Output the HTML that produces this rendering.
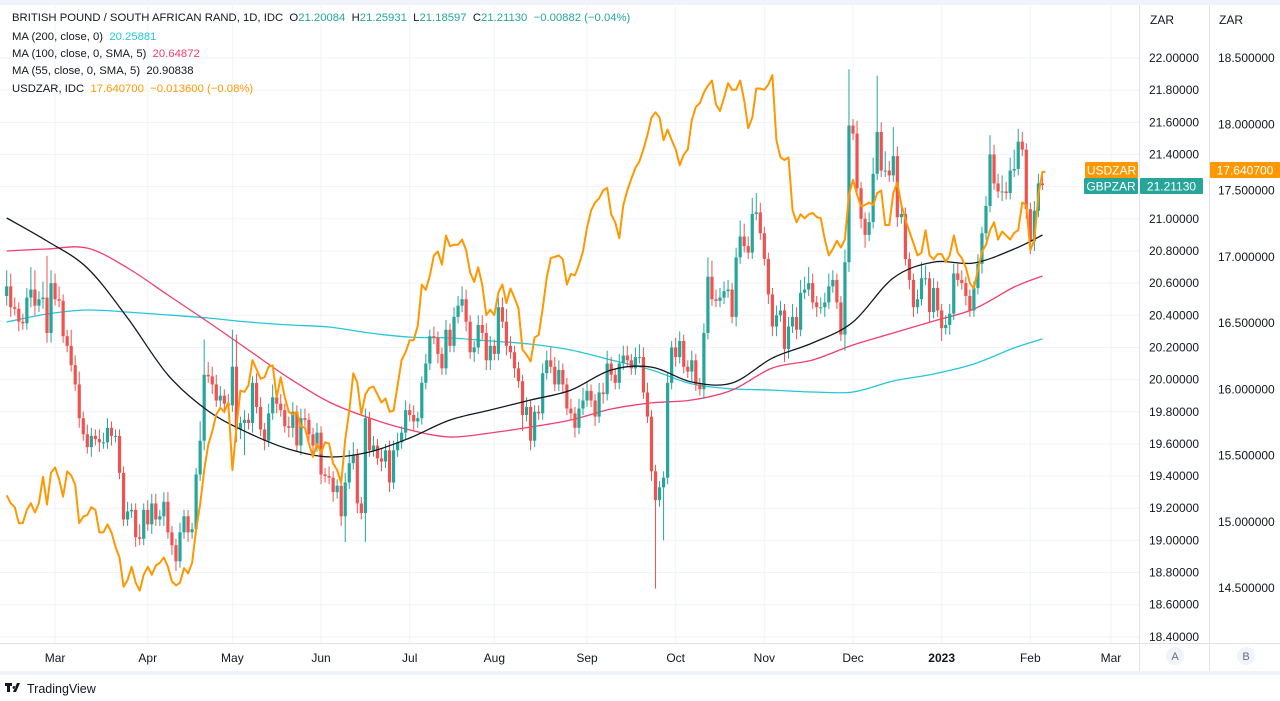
<!DOCTYPE html>
<html><head><meta charset="utf-8"><style>
body{margin:0;background:#fff;font-family:"Liberation Sans",sans-serif;}
#wrap{position:relative;width:1280px;height:701px;overflow:hidden;background:#fff;}
svg{position:absolute;left:0;top:0;}
.lg{position:absolute;left:12px;font-size:11.3px;color:#131722;white-space:nowrap;}
</style></head><body>
<div id="wrap">
<svg id="chart" width="1280" height="701"></svg>
<div class="lg" style="top:12px">BRITISH POUND / SOUTH AFRICAN RAND, 1D, IDC&nbsp; O<span style="color:#26a69a">21.20084</span>&nbsp; H<span style="color:#26a69a">21.25931</span>&nbsp; L<span style="color:#26a69a">21.18597</span>&nbsp; C<span style="color:#26a69a">21.21130</span>&nbsp; <span style="color:#26a69a">−0.00882 (−0.04%)</span></div>
<div class="lg" style="top:31px">MA (200, close, 0)&nbsp; <span style="color:#26c6da">20.25881</span></div>
<div class="lg" style="top:48px">MA (100, close, 0, SMA, 5)&nbsp; <span style="color:#f23d6d">20.64872</span></div>
<div class="lg" style="top:65px">MA (55, close, 0, SMA, 5)&nbsp; 20.90838</div>
<div class="lg" style="top:83px">USDZAR, IDC&nbsp; <span style="color:#ff9800">17.640700&nbsp; −0.013600 (−0.08%)</span></div>
</div>
<script>
const closes=[20.58,20.45,20.44,20.36,20.35,20.51,20.56,20.46,20.50,20.51,20.29,20.60,20.50,20.49,20.27,20.21,20.09,19.97,19.76,19.66,19.58,19.65,19.63,19.61,19.61,19.70,19.65,19.65,19.42,19.13,19.18,19.19,19.02,19.01,19.19,19.10,19.23,19.13,19.15,19.24,19.05,18.97,18.87,19.05,19.15,19.05,19.07,19.41,19.62,20.03,20.02,19.97,19.87,19.90,19.85,19.84,20.08,19.69,19.73,19.75,19.73,19.98,19.83,19.69,19.62,19.79,19.89,19.85,19.81,19.71,19.70,19.80,19.59,19.76,19.75,19.66,19.59,19.67,19.41,19.40,19.39,19.30,19.34,19.15,19.36,19.48,19.53,19.23,19.17,19.76,19.56,19.59,19.51,19.49,19.56,19.36,19.56,19.61,19.67,19.81,19.78,19.74,19.76,19.98,20.10,20.27,20.26,20.16,20.07,20.31,20.21,20.39,20.46,20.50,20.36,20.17,20.20,20.34,20.29,20.12,20.21,20.16,20.45,20.36,20.21,20.17,20.07,19.99,19.78,19.83,19.62,19.80,19.79,20.04,20.12,20.08,19.97,20.06,19.97,19.82,19.79,19.70,19.82,19.87,19.93,19.87,19.77,19.92,19.91,20.10,20.03,19.98,20.10,20.15,20.12,20.07,20.14,20.14,19.92,19.77,19.43,19.25,19.33,19.39,19.98,20.20,20.14,20.24,20.08,20.05,20.12,19.97,19.94,20.29,20.64,20.50,20.49,20.51,20.55,20.56,20.39,20.76,20.89,20.83,20.79,21.03,21.04,20.91,20.75,20.53,20.33,20.40,20.43,20.19,20.33,20.39,20.31,20.54,20.56,20.60,20.48,20.45,20.45,20.48,20.58,20.62,20.48,20.28,20.73,21.58,21.53,21.19,21.00,20.90,20.98,21.28,21.54,21.30,21.30,21.27,21.39,21.01,21.03,20.75,20.62,20.45,20.50,20.63,20.63,20.42,20.57,20.43,20.32,20.34,20.41,20.66,20.62,20.60,20.52,20.43,20.57,20.72,20.91,21.08,21.40,21.22,21.17,21.17,21.16,21.30,21.31,21.48,21.43,21.06,20.86,21.05,21.22,21.21];
const wickUp=[10,8,6,4,5,6,14,12,5,10,26,8,6,8,4,4,10,6,8,4,6,5,4,6,6,6,4,4,4,4,6,4,4,8,4,6,6,6,4,6,6,4,4,6,4,4,4,4,12,22,8,6,6,6,4,6,23,20,4,6,4,4,6,6,4,6,8,4,6,4,6,6,4,6,6,4,4,6,4,4,6,4,4,6,6,8,8,4,4,6,4,6,4,6,4,6,6,6,4,6,4,6,4,4,6,4,6,4,4,6,4,6,6,8,6,4,4,6,6,6,6,4,6,6,8,6,4,4,4,6,4,4,4,6,6,8,6,6,4,4,6,4,6,8,6,4,4,6,6,8,4,4,6,6,6,4,6,8,6,6,4,4,4,4,6,4,6,6,4,4,6,4,4,6,12,10,6,6,6,6,4,6,10,8,6,10,12,6,4,4,4,6,6,4,6,8,6,8,8,10,6,4,6,6,8,6,4,4,8,35,4,8,4,4,6,10,35,6,12,6,18,6,6,4,4,4,6,10,8,4,6,4,4,6,6,6,6,6,4,4,4,6,4,6,12,6,6,10,6,8,12,8,6,4,4,6,6,5];
const wickDn=[6,6,4,6,4,4,6,6,4,6,6,6,4,4,4,4,4,4,6,4,4,6,4,6,4,4,6,4,4,4,4,4,6,4,4,4,6,4,4,6,4,6,6,4,4,6,4,4,4,6,4,6,4,4,6,4,4,8,6,20,4,6,4,4,6,4,4,6,4,4,6,6,4,6,4,4,6,4,6,4,4,6,4,6,16,4,4,6,4,18,4,4,4,6,4,6,4,4,4,4,4,6,4,4,4,4,4,6,4,4,4,4,4,4,6,4,6,4,4,6,6,4,4,4,6,4,6,4,10,4,6,4,4,4,4,4,4,4,6,4,4,6,4,4,4,4,6,4,6,4,4,4,4,4,4,4,4,4,4,4,6,55,4,33,4,4,6,4,4,4,6,4,4,6,4,4,4,4,4,4,4,6,4,4,4,4,4,4,4,6,6,6,4,8,6,4,6,4,4,4,4,6,4,6,4,4,4,4,10,6,4,4,6,8,4,4,4,4,4,4,4,6,4,4,6,6,4,4,4,6,4,4,8,4,6,4,4,4,6,4,4,4,6,4,4,4,4,6,4,4,4,4,4,6,8,6,4,3];
const usdzar=[15.20,15.14,15.11,14.99,14.99,15.09,15.14,15.07,15.14,15.34,15.13,15.37,15.41,15.32,15.19,15.38,15.35,15.28,14.99,15.04,15.05,15.11,15.09,14.92,14.92,14.98,14.92,14.81,14.73,14.51,14.56,14.66,14.54,14.48,14.60,14.66,14.60,14.67,14.69,14.73,14.66,14.55,14.52,14.54,14.65,14.61,14.69,14.94,15.13,15.39,15.58,15.68,15.81,15.86,15.83,15.90,15.39,15.71,15.99,15.98,16.03,16.22,16.15,16.08,16.09,16.17,16.18,15.94,16.09,15.94,15.83,15.81,15.83,15.72,15.71,15.59,15.49,15.59,15.52,15.60,15.59,15.44,15.39,15.29,15.62,15.84,16.12,16.05,15.81,15.96,16.01,16.02,15.96,15.90,15.93,15.83,15.84,16.03,16.22,16.28,16.37,16.37,16.48,16.79,16.75,16.86,17.01,17.04,16.94,17.16,17.08,17.09,17.09,17.13,17.05,16.88,16.81,16.92,16.79,16.56,16.60,16.56,16.73,16.79,16.65,16.76,16.69,16.61,16.30,16.26,16.21,16.39,16.41,16.61,16.84,16.99,17.00,17.01,16.98,16.79,16.87,16.86,16.94,17.04,17.22,17.35,17.41,17.44,17.50,17.52,17.32,17.26,17.14,17.39,17.50,17.59,17.67,17.72,17.81,17.92,18.05,18.09,18.05,17.88,17.96,17.88,17.81,17.69,17.77,17.81,18.03,18.13,18.16,18.24,18.29,18.33,18.15,18.10,18.20,18.31,18.26,18.26,18.33,18.18,17.97,18.05,18.27,18.27,18.26,18.30,18.37,17.88,17.75,17.73,17.75,17.35,17.26,17.32,17.29,17.32,17.33,17.30,17.29,17.13,17.01,17.06,17.12,17.07,17.13,17.47,17.58,17.47,17.38,17.39,17.41,17.39,17.48,17.50,17.24,17.24,17.48,17.56,17.39,17.28,17.19,17.10,17.01,17.03,17.20,17.01,16.98,17.02,17.02,16.96,17.01,17.16,17.03,16.99,16.92,16.80,16.76,16.90,17.04,17.09,17.20,17.26,17.13,17.19,17.16,17.13,17.18,17.20,17.41,17.39,17.05,17.13,17.47,17.64];
const maBars=[0,10,20,30,40,50,60,70,80,90,100,110,120,130,140,150,160,170,180,190,200,210,220,230,240,250,257];
const ma55=[21.005,20.862,20.694,20.383,20.029,19.805,19.668,19.568,19.519,19.55,19.637,19.749,19.811,19.873,19.935,20.06,20.078,19.985,19.979,20.134,20.228,20.358,20.632,20.731,20.725,20.812,20.899];
const ma100=[20.80,20.812,20.818,20.694,20.526,20.358,20.184,20.010,19.861,19.761,19.687,19.643,19.668,19.705,19.749,19.817,19.855,19.873,19.935,20.072,20.122,20.215,20.290,20.364,20.439,20.576,20.644];
const ma200=[20.358,20.408,20.433,20.420,20.402,20.383,20.358,20.340,20.327,20.290,20.264,20.259,20.240,20.221,20.184,20.122,20.060,19.973,19.942,19.935,19.923,19.923,19.991,20.035,20.097,20.197,20.253];
const leftTicks=["22.00000","21.80000","21.60000","21.40000","21.20000","21.00000","20.80000","20.60000","20.40000","20.20000","20.00000","19.80000","19.60000","19.40000","19.20000","19.00000","18.80000","18.60000","18.40000"];
const rightTicks=["18.500000","18.000000","17.500000","17.000000","16.500000","16.000000","15.500000","15.000000","14.500000"];
const months=["Mar","Apr","May","Jun","Jul","Aug","Sep","Oct","Nov","Dec","2023","Feb","Mar"];
const monthBars=[12,35,56,78,100,121,144,166,188,210,232,254,274];

const NS="http://www.w3.org/2000/svg";
const svg=document.getElementById('chart');
const PL=0,PR=1139,PT=6,PB=643;
const xB=i=>6.7+i*4.03;
const yL=v=>58+(22-v)*160.8;
const yR=v=>58+(18.5-v)*132.5;
function el(tag,attrs,parent){const e=document.createElementNS(NS,tag);for(const k in attrs)e.setAttribute(k,attrs[k]);(parent||svg).appendChild(e);return e;}

el('rect',{x:0,y:0,width:1280,height:5,fill:'#f0f3fa'});
el('rect',{x:0,y:671,width:1280,height:4,fill:'#f0f3fa'});
const gGrid=el('g',{});


leftTicks.forEach(t=>{const y=yL(parseFloat(t));el('line',{x1:0,x2:PR,y1:y,y2:y,stroke:'#f0f3fa'},gGrid);});
months.forEach((m,k)=>{const x=xB(monthBars[k]);el('line',{x1:x,x2:x,y1:PT,y2:PB,stroke:'#f0f3fa'},gGrid);});

function smoothPath(pts){let d='M'+pts[0][0].toFixed(1)+','+pts[0][1].toFixed(1);
for(let i=0;i<pts.length-1;i++){const p0=pts[Math.max(0,i-1)],p1=pts[i],p2=pts[i+1],p3=pts[Math.min(pts.length-1,i+2)];
const c1x=p1[0]+(p2[0]-p0[0])/6,c1y=p1[1]+(p2[1]-p0[1])/6,c2x=p2[0]-(p3[0]-p1[0])/6,c2y=p2[1]-(p3[1]-p1[1])/6;
d+=' C'+c1x.toFixed(1)+','+c1y.toFixed(1)+' '+c2x.toFixed(1)+','+c2y.toFixed(1)+' '+p2[0].toFixed(1)+','+p2[1].toFixed(1);}return d;}
function maLine(arr,color,name){const p=el('path',{d:smoothPath(arr.map((v,k)=>[xB(maBars[k]),yL(v)])),fill:'none',stroke:color,'stroke-width':1.3});

}
maLine(ma200,'#26c6da','ma200-line');
maLine(ma100,'#f23d6d','ma100-line');

const gC=el('g',{});


closes.forEach((c,i)=>{const o=i===0?20.52:closes[i-1];const up=c>=o;const col=up?'#26a69a':'#ef5350';
const hi=Math.max(o,c)+wickUp[i]/100,lo=Math.min(o,c)-wickDn[i]/100;const x=xB(i);
const g=el('g',{},gC);


el('line',{x1:x,x2:x,y1:yL(hi),y2:yL(lo),stroke:col,'stroke-width':1},g);
const y1=yL(Math.max(o,c)),y2=yL(Math.min(o,c));
el('rect',{x:x-1.6,y:y1,width:3.2,height:Math.max(1,y2-y1),fill:col},g);});

maLine(ma55,'#131722','ma55-line');
const ol=el('polyline',{points:usdzar.map((v,i)=>xB(i).toFixed(1)+','+yR(v).toFixed(1)).join(' ')+' '+(xB(257)+3)+','+yR(usdzar[257]).toFixed(1),fill:'none',stroke:'#ff9800','stroke-width':2,'stroke-linejoin':'round'});



el('line',{x1:1139.5,x2:1139.5,y1:5,y2:671,stroke:'#e0e3eb'});
el('line',{x1:1209.5,x2:1209.5,y1:5,y2:671,stroke:'#e0e3eb'});
el('line',{x1:0,x2:1280,y1:643.5,y2:643.5,stroke:'#e0e3eb'});
function txt(s,x,y,attrs,name){const t=el('text',Object.assign({x:x,y:y,'font-size':12,fill:'#131722','font-family':'Liberation Sans, sans-serif'},attrs||{}));t.textContent=s;

return t;}
txt('ZAR',1150,24,{},'left-axis-unit');
txt('ZAR',1219,24,{},'right-axis-unit');
leftTicks.forEach(t=>txt(t,1149,yL(parseFloat(t))+4,{},'left-tick-label'));
rightTicks.forEach(t=>txt(t,1218,yR(parseFloat(t))+4,{},'right-tick-label'));
months.forEach((m,k)=>txt(m,xB(monthBars[k]),662,{'text-anchor':'middle','font-weight':m==='2023'?'bold':'normal'},'time-label'));
[['A',1175],['B',1246]].forEach(([s,x])=>{const c=el('circle',{cx:x,cy:656,r:9,fill:'#f0f3fa'});


txt(s,x,660,{'text-anchor':'middle','font-size':11,fill:'#6a6d78'},'scale-button-label');});

function tag(x,y,w,col,s,name){const r=el('rect',{x:x,y:y,width:w,height:16,fill:col,rx:1});


txt(s,x+w/2,y+12.5,{'text-anchor':'middle',fill:'#fff','font-size':12},name+'-text');}
tag(1085,162,53,'#ff9800','USDZAR','usdzar-tag');
tag(1084,178,54,'#26a69a','GBPZAR','gbpzar-tag');
tag(1140,178,63,'#26a69a','21.21130','gbpzar-price-tag');
tag(1210,162,70,'#ff9800','17.640700','usdzar-price-tag');

txt('TradingView',27,693,{'font-size':12.5},'tradingview-logo');
const li=el('path',{d:'M5 683h7v3h-2v6h-3v-6h-2zM13 692l4-9h3l-4 9zM14 686a1.5 1.5 0 1 0 0.01 0',fill:'#131722'});


</script>
</body></html>
